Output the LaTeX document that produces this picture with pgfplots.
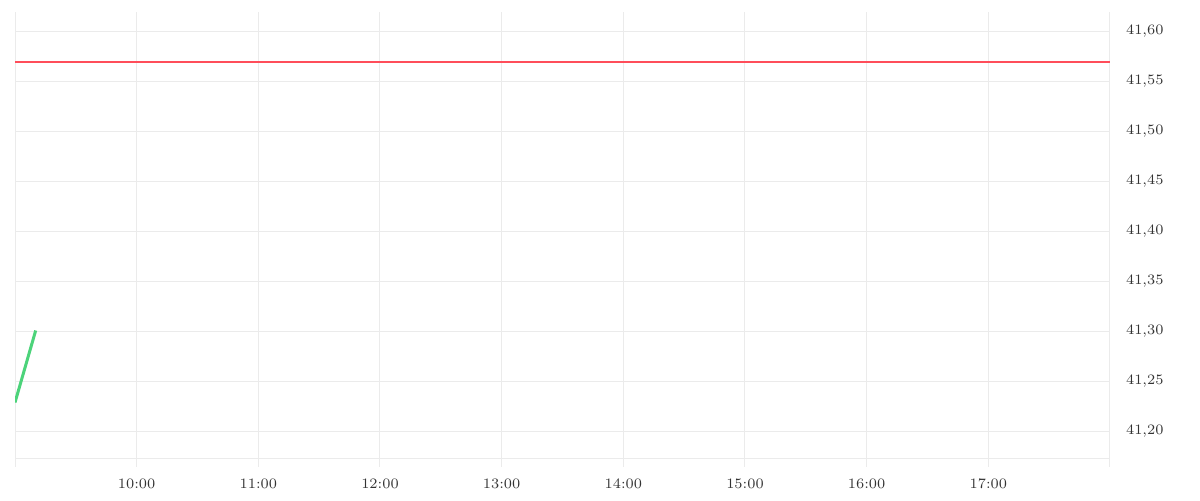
\documentclass[border=0pt]{standalone}
\usepackage{pgfplots}
\pgfplotsset{compat=1.18}
\definecolor{gridgray}{HTML}{EBEBEB}
\definecolor{txt}{HTML}{333333}
\definecolor{lastred}{RGB}{255,77,90}
\definecolor{upgreen}{RGB}{76,211,122}
\begin{document}
\begin{tikzpicture}
\path[use as bounding box] (0,0) rectangle (600pt,250pt);
\begin{axis}[
    at={(7.5pt,21pt)}, anchor=south west,
    scale only axis,
    width=547.5pt, height=223pt,
    xmin=9, xmax=18,
    ymin=41.1735, ymax=41.6195,
    axis x line*=bottom,
    axis y line*=right,
    axis line style={draw=gridgray, line width=0.5pt, -},
    xtick={9,10,11,12,13,14,15,16,17,18},
    xticklabels={,10:00,11:00,12:00,13:00,14:00,15:00,16:00,17:00,},
    ytick={41.20,41.25,41.30,41.35,41.40,41.45,41.50,41.55,41.60},
    yticklabel style={/pgf/number format/.cd, use comma, fixed, fixed zerofill, precision=2, assume math mode=true},
    grid=major,
    grid style={draw=gridgray, line width=0.5pt},
    tick align=outside,
    major tick length=4.5pt,
    xtick style={draw=gridgray, line width=0.5pt},
    ytick style={draw=none},
    ticklabel style={font=\fontsize{7.2}{8}\selectfont, text=txt},
    xticklabel style={yshift=-2.5pt},
]
% previous close
\addplot[color=lastred, no marks, line width=1pt] coordinates {(9,41.57) (18,41.57)};
% intraday price
\addplot[color=upgreen, no marks, line width=1.5pt] coordinates {(9,41.229) (9.17,41.301)};
\end{axis}
\end{tikzpicture}
\end{document}
